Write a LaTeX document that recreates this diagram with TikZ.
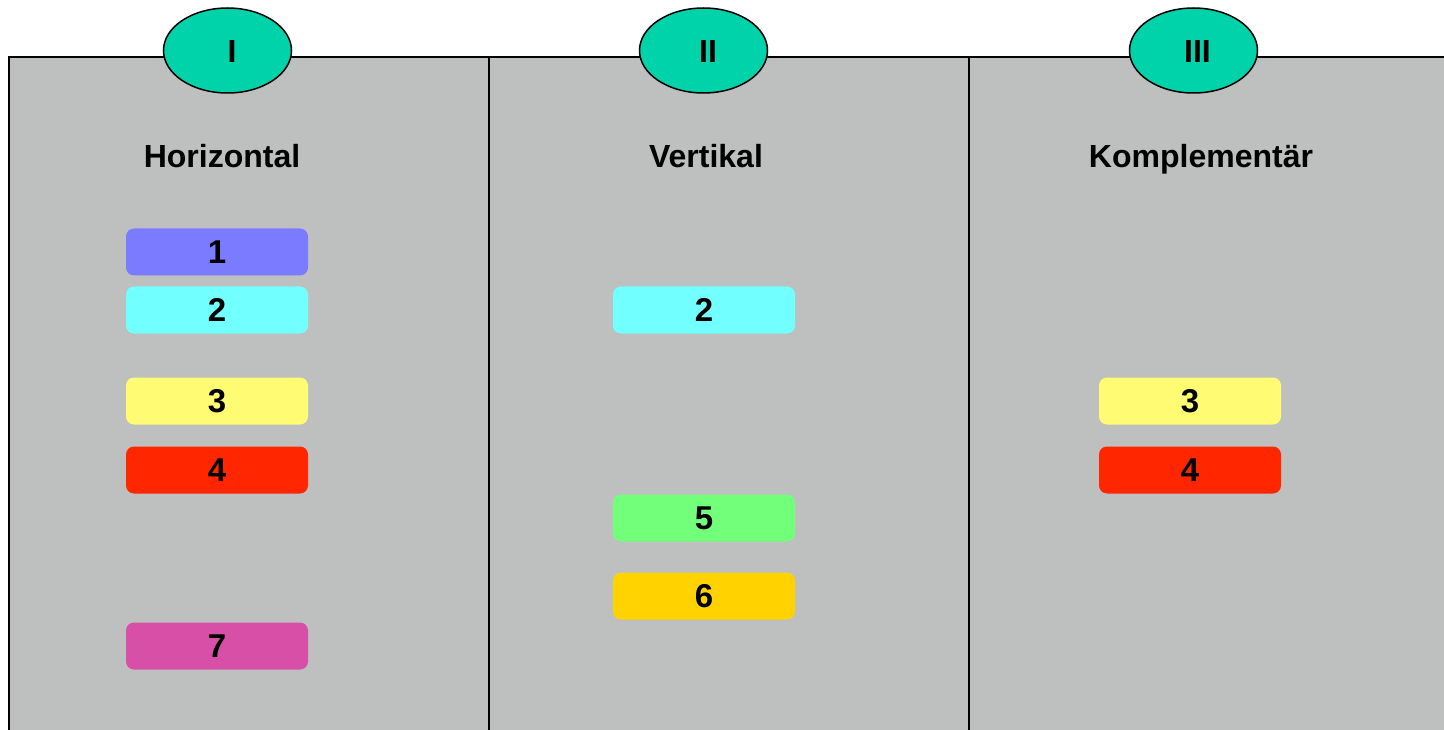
\documentclass[tikz,border=0pt]{standalone}
\usepackage{fontspec}
\setmainfont{Liberation Sans}
\usetikzlibrary{shapes.geometric}
\definecolor{panelgray}{HTML}{BEC0BF}
\definecolor{ovalgreen}{HTML}{00D3AA}
\definecolor{cA}{HTML}{7B7BFF}
\definecolor{cB}{HTML}{72FFFF}
\definecolor{cC}{HTML}{FFFB72}
\definecolor{cD}{HTML}{FF2600}
\definecolor{cE}{HTML}{72FF7A}
\definecolor{cF}{HTML}{FFD200}
\definecolor{cG}{HTML}{D84FA8}
\tikzset{
  panel/.style={draw=black, line width=1.6pt, fill=panelgray},
  oval/.style={ellipse, draw=black, line width=1.5pt, fill=ovalgreen, minimum width=128pt, minimum height=85pt, inner sep=0pt},
  numeral/.style={font=\fontsize{32}{36}\selectfont\bfseries},
  title/.style={anchor=base, font=\fontsize{32}{36}\selectfont\bfseries},
  bar/.style={rounded corners=8pt, minimum width=182pt, minimum height=47pt, inner sep=0pt, font=\fontsize{33}{36}\selectfont\bfseries}
}
\begin{document}
\begin{tikzpicture}[x=1pt, y=-1pt]
\useasboundingbox (0,0) rectangle (1444,730);
\begin{scope}
\clip (0,0) rectangle (1444,730);
\draw[panel] (9,57) rectangle (489,760);
\draw[panel] (489,57) rectangle (969,760);
\draw[panel] (969,57) rectangle (1470,760);
\end{scope}
\node[oval] (o1) at (227.5,50.5) {};
\node[oval] (o2) at (703.5,50.5) {};
\node[oval] (o3) at (1193.5,50.5) {};
\node[numeral] (n1) at ([xshift=4.5pt,yshift=-1pt]o1.center) {I};
\node[numeral] (n2) at ([xshift=4.5pt,yshift=-1pt]o2.center) {II};
\node[numeral] (n3) at ([xshift=4pt,yshift=-1pt]o3.center) {III};
\node[title] (t1) at (222,167.5) {Horizontal};
\node[title] (t2) at (706,167.5) {Vertikal};
\node[title] (t3) at (1201,167.5) {Komplementär};
\node[bar, fill=cA] (a1) at (217,252) {1};
\node[bar, fill=cB] (a2) at (217,310) {2};
\node[bar, fill=cC] (a3) at (217,401) {3};
\node[bar, fill=cD] (a4) at (217,470) {4};
\node[bar, fill=cG] (a7) at (217,646) {7};
\node[bar, fill=cB] (b2) at (704,310) {2};
\node[bar, fill=cE] (b5) at (704,518) {5};
\node[bar, fill=cF] (b6) at (704,596) {6};
\node[bar, fill=cC] (c3) at (1190,401) {3};
\node[bar, fill=cD] (c4) at (1190,470) {4};
\end{tikzpicture}
\end{document}
